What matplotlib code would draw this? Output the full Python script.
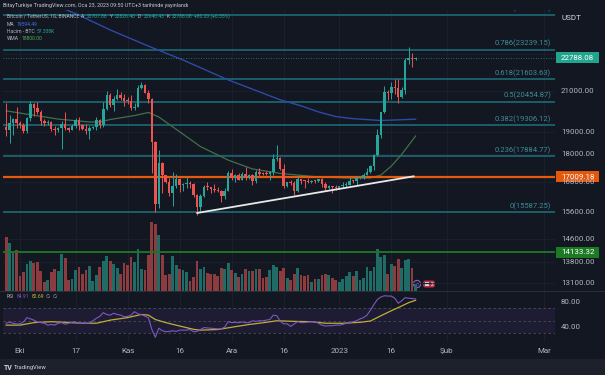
import matplotlib
matplotlib.use("Agg")
import matplotlib.pyplot as plt
from matplotlib.patches import Rectangle, FancyBboxPatch, Circle
from matplotlib.transforms import Affine2D, blended_transform_factory as btf
import numpy as np
from datetime import date

plt.rcParams['font.family'] = ['Roboto', 'DejaVu Sans']

# ---------------- data ----------------
start_date = date(2022, 9, 27)
opens = [19222, 19079, 19413, 19592, 19422, 19310, 19057, 19630, 20337, 20158,
         19960, 19531, 19417, 19439, 19131, 19060, 19155, 19375, 19176, 19069,
         19262, 19549, 19328, 19123, 19041, 19165, 19205, 19571, 19330, 20080,
         20772, 20295, 20591, 20809, 20627, 20490, 20483, 20151, 20207, 21148,
         21299, 20905, 20591, 18547, 15922, 17601, 17070, 16812, 16330, 16620,
         16900, 16662, 16692, 16700, 16699, 16280, 15781, 16226, 16603, 16598,
         16522, 16458, 16428, 16212, 16442, 17163, 16977, 17092, 16885, 17105,
         16967, 17088, 16836, 17224, 17128, 17127, 17105, 17207, 17776, 17803,
         17356, 16632, 16777, 16738, 16439, 16896, 16824, 16822, 16778, 16836,
         16832, 16919, 16707, 16547, 16633, 16607, 16542, 16617, 16673, 16675,
         16851, 16832, 16951, 16955, 17091, 17196, 17446, 17934, 18847, 19930,
         20955, 20882, 21186, 21133, 20677, 21071, 22667, 22783, 22707.88]
highs = [20385, 19790, 19645, 20185, 19485, 19395, 19719, 20475, 20365, 20456,
         20060, 19620, 19560, 19525, 19268, 19218, 19513, 19952, 19227, 19366,
         19666, 19706, 19345, 19347, 19250, 19257, 19697, 19601, 20415, 21020,
         20877, 20750, 21085, 20930, 20847, 20700, 20800, 20393, 21302, 21480,
         21369, 21069, 20667, 18587, 18155, 17655, 17100, 16955, 17190, 17134,
         16961, 16746, 17011, 16818, 16752, 16291, 16298, 16676, 16812, 16600,
         16701, 16600, 16483, 16529, 17249, 17320, 17105, 17159, 17203, 17424,
         17108, 17143, 17299, 17360, 17227, 17267, 17241, 18000, 18387, 17847,
         17531, 16796, 16863, 16815, 17061, 16925, 16868, 16955, 16869, 16857,
         16926, 16964, 16786, 16664, 16644, 16650, 16628, 16799, 16778, 16991,
         16880, 17042, 16975, 17176, 17398, 17500, 18000, 19117, 19964, 21259,
         21050, 21474, 21650, 21650, 21194, 22755, 23371, 23078, 22826.40]
lows = [18816, 18471, 18843, 19156, 19159, 18920, 18959, 19490, 19730, 19856,
        19320, 19250, 19310, 19020, 18860, 18965, 18190, 19070, 18975, 19061,
        19160, 19096, 19070, 18900, 18650, 19115, 19068, 19158, 19240, 20060,
        20202, 20000, 20553, 20516, 20232, 20330, 20048, 20031, 20180, 21080,
        20880, 20384, 17166, 15588, 15754, 16361, 16748, 16229, 15815, 16527,
        16377, 16410, 16546, 16560, 16180, 15476, 15627, 16169, 16460, 16342,
        16400, 16400, 15995, 16109, 16428, 16855, 16787, 16865, 16878, 16867,
        16907, 16678, 16733, 17060, 17091, 17070, 16872, 17079, 17660, 17275,
        16527, 16586, 16663, 16256, 16398, 16723, 16559, 16760, 16771, 16735,
        16788, 16591, 16465, 16488, 16333, 16470, 16499, 16548, 16607, 16652,
        16750, 16678, 16909, 16909, 17091, 17160, 17315, 17910, 18700, 19888,
        20551, 20611, 20841, 20407, 20659, 20862, 22422, 22292, 22640.43]
closes = [19079, 19413, 19592, 19422, 19310, 19057, 19630, 20337, 20158, 19960,
          19531, 19417, 19439, 19131, 19060, 19155, 19375, 19176, 19069, 19262,
          19549, 19328, 19123, 19041, 19165, 19205, 19571, 19330, 20080, 20772,
          20295, 20591, 20809, 20627, 20490, 20483, 20151, 20207, 21148, 21299,
          20905, 20591, 18547, 15922, 17601, 17070, 16812, 16330, 16620, 16900,
          16662, 16692, 16700, 16699, 16280, 15781, 16226, 16603, 16598, 16522,
          16458, 16428, 16212, 16442, 17163, 16977, 17092, 16885, 17105, 16967,
          17088, 16836, 17224, 17128, 17127, 17105, 17207, 17776, 17803, 17356,
          16632, 16777, 16738, 16439, 16896, 16824, 16822, 16778, 16836, 16832,
          16919, 16707, 16547, 16633, 16607, 16542, 16617, 16673, 16675, 16851,
          16832, 16951, 16955, 17091, 17196, 17446, 17934, 18847, 19930, 20955,
          20882, 21186, 21133, 20677, 21071, 22667, 22783, 22707, 22788.08]
volumes_k = [432, 384, 304, 328, 120, 152, 216, 240, 224, 232,
             160, 72, 88, 152, 176, 160, 296, 264, 88, 96,
             168, 192, 136, 168, 200, 80, 128, 192, 240, 280,
             240, 216, 184, 136, 224, 208, 272, 232, 336, 176,
             168, 288, 552, 536, 448, 288, 128, 136, 280, 208,
             176, 168, 152, 80, 112, 240, 176, 192, 144, 136,
             136, 120, 184, 176, 224, 168, 144, 112, 136, 176,
             160, 160, 176, 176, 104, 112, 168, 208, 192, 160,
             184, 104, 88, 136, 184, 128, 120, 128, 72, 96,
             96, 128, 136, 128, 104, 88, 72, 96, 120, 152,
             120, 160, 88, 104, 192, 160, 192, 336, 272, 288,
             136, 216, 200, 256, 184, 248, 256, 184, 57.338]
rsi = [46, 48, 46, 45, 45, 48, 55, 53, 51, 48,
       47, 46, 43, 44, 43, 46, 47, 44.5, 46, 48,
       48, 46, 46, 46, 46, 50, 54, 57, 63, 60,
       59, 62, 60, 59, 56.5, 57, 59, 64.5, 61, 60,
       57.5, 55, 36, 23.5, 38, 34, 32.5, 33, 34, 33,
       35, 35, 35, 36, 32.5, 33, 36, 39, 38.5, 38,
       37.5, 37, 37, 40, 48.5, 47, 47.5, 47, 48, 47,
       47, 50, 49, 50, 50, 51, 52, 59, 58, 49,
       45, 45, 41, 45, 48.5, 47, 47, 48, 48.5, 48.5,
       46, 43, 41.6, 42, 42, 43, 43, 44, 46, 47,
       48.5, 50, 53, 55, 59, 67, 76, 84, 88, 90,
       89.5, 89.5, 86, 78, 82, 87, 86, 85.5, 84.91]
rsi_ma_day = [0, 4, 8, 13, 17, 22, 26, 30, 35, 39, 41, 43, 46, 50, 54, 56, 61, 66,
              70, 75, 78, 83, 88, 92, 97, 102, 105, 108, 111, 114, 116, 118]
rsi_ma_val = [43, 43, 47, 48.5, 47.5, 46, 46, 51, 55, 60, 59, 52, 47, 41.6, 36.3, 35,
              36, 40.5, 44, 47.5, 50, 49, 48.5, 46, 46, 47.5, 49.6, 58, 66, 73.6, 79, 82.69]
ma_day = [0, 10, 20, 30, 41, 51, 64, 79, 85, 90, 95, 100, 108, 118]
ma_val = [27500, 26300, 25400, 24400, 23450, 22660, 21580, 20550, 20250, 19950,
          19720, 19620, 19530, 19594.49]
wma_day = [0, 7, 15, 24, 27, 30, 37, 41, 44, 50, 56, 64, 71, 79, 90, 100, 105,
           108, 111, 114, 118]
wma_val = [20000, 19810, 19600, 19460, 19460, 19580, 19770, 19920, 19700, 19000,
           18320, 17720, 17340, 17150, 17000, 16950, 16960, 17080, 17460, 17970, 18800]
fib_ratios = ["1", "0.786", "0.618", "0.5", "0.382", "0.236", "0"]
fib_prices = [25322.49, 23239.15, 21603.63, 20454.87, 19306.12, 17884.77, 15587.25]
trend_day = [55, 117.5]
trend_price = [15560, 17030]
level_orange = 17009.18
level_green = 14133.32
last_price = 22788.08
price_ticks = [21000, 19000, 18000, 16800, 15600, 14600, 13800, 13100]
rsi_ticks = [80, 40]
date_ticks = [date(2022, 10, 1), date(2022, 10, 17), date(2022, 11, 1), date(2022, 11, 16),
              date(2022, 12, 1), date(2022, 12, 16), date(2023, 1, 1), date(2023, 1, 16),
              date(2023, 2, 1), date(2023, 3, 1)]
date_labels = ["Eki", "17", "Kas", "16", "Ara", "16", "2023", "16", "Şub", "Mar"]

# ---------------- style ----------------
BG = "#131722"
UP, DN = "#26a69a", "#ef5350"
VUP, VDN = "#1f6b66", "#8c3b3e"
FIB = "#1b6b76"
FIBTXT = "#3c8c97"
AXTXT = "#b2b5be"
GRID = "#1b1f2b"

W, H = 605, 375
fig = plt.figure(figsize=(W / 100, H / 100), dpi=100, facecolor=BG)
PX = Affine2D().scale(1 / W, -1 / H).translate(0, 1) + fig.transFigure


def rect_px(x0, y0, x1, y1):
    return [x0 / W, 1 - y1 / H, (x1 - x0) / W, (y1 - y0) / H]


PL, PR = 3, 555
PT, PB = 10, 291
RT, RB = 292, 342
axv = fig.add_axes(rect_px(PL, PT, PR, PB))
ax = fig.add_axes(rect_px(PL, PT, PR, PB))
axr = fig.add_axes(rect_px(PL, RT, PR, RB))
axv.set_zorder(1)
ax.set_zorder(2)
axv.set_facecolor(BG)
ax.patch.set_visible(False)
axr.set_facecolor(BG)

n = len(closes)
idx = np.arange(n)
XL = (-0.9, 158.18)
for a in (axv, ax, axr):
    a.set_xlim(*XL)
    a.axis("off")

ax.set_yscale("log")
ax.set_ylim(12846, 25625)
vmax = max(volumes_k)
axv.set_ylim(0, vmax * (PB - PT) / 69.0)
axr.set_ylim(16, 96)

tick_idx = [(d - start_date).days for d in date_ticks]

# grid
for t in tick_idx:
    axv.axvline(t, color=GRID, lw=0.8, zorder=0)
    axr.axvline(t, color=GRID, lw=0.8, zorder=0)
tr_grid = btf(axv.transAxes, ax.transData)
for p in price_ticks + [23000]:
    axv.plot([0, 1], [p, p], transform=tr_grid, color=GRID, lw=0.8, zorder=0)

# volume
vcols = [VUP if c >= o else VDN for o, c in zip(opens, closes)]
axv.bar(idx, volumes_k, width=0.8, color=vcols, zorder=2)

# fib lines
for p in fib_prices:
    ax.axhline(p, color=FIB, lw=1.2, zorder=2)
tr_fibtxt = btf(PX, ax.transData)
for r, p in zip(fib_ratios, fib_prices):
    ax.annotate(f"{r}({p:.2f})", xy=(PR - 4, p), xycoords=tr_fibtxt,
                xytext=(0, 4.5), textcoords="offset points", ha="right", va="center",
                fontsize=5.5, color=FIBTXT, annotation_clip=False, clip_on=True)

# moving averages
ax.plot(ma_day, ma_val, color="#2d4aa8", lw=1.0, zorder=3)
ax.plot(wma_day, wma_val, color="#40704a", lw=0.9, zorder=3)

# horizontal levels
ax.axhline(level_orange, color="#e65a0e", lw=1.6, zorder=4)
ax.axhline(level_green, color="#1d7523", lw=1.4, zorder=4)
ax.axhline(last_price, color=UP, lw=0.6, ls=(0, (1, 2)), zorder=4, alpha=0.8)

# candles
minf = np.exp(1.0 / 406.9)
for i in range(n):
    o, h, l, c = opens[i], highs[i], lows[i], closes[i]
    col = UP if c >= o else DN
    ax.vlines(i, l, h, color=col, lw=0.7, zorder=5)
    lo, hi = min(o, c), max(o, c)
    if hi / lo < minf:
        hi = lo * minf
    ax.bar(i, hi - lo, bottom=lo, width=0.72, color=col, zorder=6, linewidth=0)

# trend line
ax.plot(trend_day, trend_price, color="#e8e8e8", lw=1.3, zorder=7, solid_capstyle="round")

# RSI pane
axr.axhspan(30, 70, color="#1e1c33", zorder=0, lw=0)
for v in (70, 50, 30):
    axr.axhline(v, color="#4a4d5a", lw=0.6, ls=(0, (3, 3)), zorder=1)
axr.plot(idx, rsi, color="#7e57c2", lw=0.8, zorder=3)
axr.plot(rsi_ma_day, rsi_ma_val, color="#bfae3a", lw=0.9, zorder=2)

# separators / strips
fig.add_artist(Rectangle((0, 291), W, 1.2, transform=PX, color="#2a2e39", lw=0))
fig.add_artist(Rectangle((0, 359), W, 16, transform=PX, color="#1e212b", lw=0))

# price axis labels
tr_lab = btf(PX, ax.transData)
for p in price_ticks:
    fig.text(561, p, f"{p:.2f}", transform=tr_lab, fontsize=5.7, color=AXTXT,
             ha="left", va="center")
fig.text(561, 18, "USDT", transform=PX, fontsize=5.8, color="#d1d4dc", ha="left", va="center")
tr_rlab = btf(PX, axr.transData)
for v in rsi_ticks:
    fig.text(561, v, f"{v:.2f}", transform=tr_rlab, fontsize=5.7, color=AXTXT,
             ha="left", va="center")


def price_box(price, text, color):
    yc = ax.transData.transform((0, price))[1]
    yc_px = H - yc * 100 / fig.dpi
    fig.add_artist(Rectangle((556, yc_px - 5.5), 43, 11, transform=PX, color=color, lw=0))
    fig.text(561, yc_px, text, transform=PX, fontsize=5.7, color="white",
             ha="left", va="center")


price_box(last_price, f"{last_price:.2f}", "#22a58f")
price_box(level_orange, f"{level_orange:.2f}", "#e5580c")
price_box(level_green, f"{level_green:.2f}", "#1c7a25")

# date labels
tr_date = btf(axr.transData, PX)
for t, lab in zip(tick_idx, date_labels):
    fig.text(t, 351, lab, transform=tr_date, fontsize=5.8, color=AXTXT,
             ha="center", va="center")

# header & legends
renderer = fig.canvas.get_renderer()


def seq_text(x, y, parts, size):
    for s, col in parts:
        t = fig.text(x, y, s, transform=PX, fontsize=size, color=col, ha="left", va="center")
        bb = t.get_window_extent(renderer=renderer)
        x += bb.width * 100 / fig.dpi + 2.2


fig.text(3, 5.5, "BitayTurkiye TradingView.com, Oca 23, 2023 09:50 UTC+3 tarihinde yayınlandı",
         transform=PX, fontsize=3.9, color="#c8cad0", ha="left", va="center")
seq_text(7, 16, [("Bitcoin / TetherUS, 1G, BINANCE", AXTXT), ("A", AXTXT),
                 ("22707.88", UP), ("Y", AXTXT), ("22826.40", UP), ("D", AXTXT),
                 ("22640.43", UP), ("K", AXTXT), ("22788.08", UP),
                 ("+80.20 (+0.35%)", UP)], 3.6)
seq_text(7, 24, [("MA", AXTXT), ("19594.49", "#3f6ee8")], 3.6)
seq_text(7, 31.5, [("Hacim - BTC", AXTXT), ("57.338K", UP)], 3.6)
seq_text(7, 38.5, [("WMA", AXTXT), ("18800.00", "#4caf50")], 3.6)
seq_text(7, 297, [("RSI", AXTXT), ("84.91", "#7e57c2"), ("82.69", "#c9b83a"),
                  ("∅", AXTXT), ("∅", AXTXT)], 3.6)

# bottom logo
fig.text(4, 367.5, "TV", transform=PX, fontsize=5, color="#d1d4dc", ha="left",
         va="center", weight="bold")
fig.text(14, 367.5, "TradingView", transform=PX, fontsize=4.2, color="#d1d4dc",
         ha="left", va="center")

# event icons
fig.add_artist(Circle((417, 284), 3.6, transform=PX, fill=False, ec="#8e5bd0", lw=0.8))
fig.text(417, 284, "ϟ", transform=PX, fontsize=3.5, color="#8e5bd0", ha="center", va="center")
fig.add_artist(FancyBboxPatch((423, 280.5), 12, 7, boxstyle="round,pad=0,rounding_size=2.5",
                              transform=PX, fc="#b7323f", ec="none"))
fig.add_artist(Rectangle((425, 282), 4, 3.5, transform=PX, color="#c6d6f0", lw=0))
fig.text(432, 284, "2", transform=PX, fontsize=3.5, color="white", ha="center", va="center")

fig.savefig("out.png", dpi=100, facecolor=BG)
